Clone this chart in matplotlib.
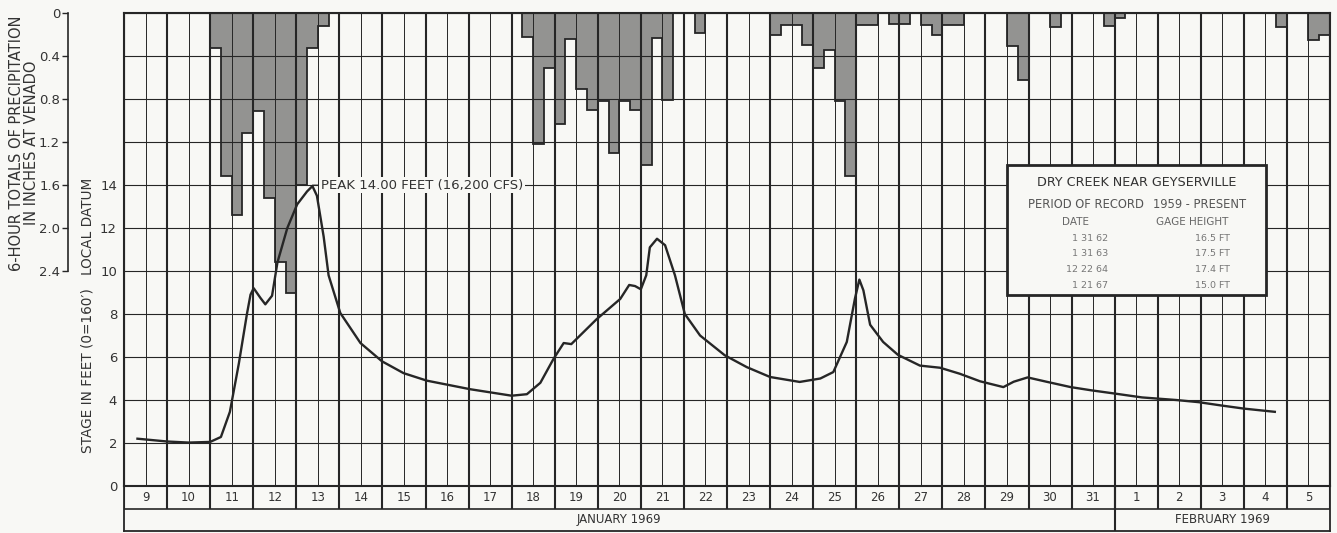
import matplotlib
matplotlib.use("Agg")
import matplotlib.pyplot as plt
import matplotlib.dates as mdates
import pandas as pd
from matplotlib.patches import Rectangle

BG = "#f8f8f5"
INK = "#262626"
TXT = "#333333"
FILL = "#939391"

START = pd.Timestamp("1969-01-09")
END = pd.Timestamp("1969-02-06")
FEB1 = pd.Timestamp("1969-02-01")

# 6-hour precipitation totals at Venado (inches), from Jan 11 00h, four per day
precip_start = pd.Timestamp("1969-01-11")
precip_in = [
    0.33, 1.52, 1.88, 1.12,   # Jan 11
    0.91, 1.72, 2.32, 2.60,   # Jan 12
    1.60, 0.33, 0.12, 0.00,   # Jan 13
    0.00, 0.00, 0.00, 0.00,   # Jan 14
    0.00, 0.00, 0.00, 0.00,   # Jan 15
    0.00, 0.00, 0.00, 0.00,   # Jan 16
    0.00, 0.00, 0.00, 0.00,   # Jan 17
    0.00, 0.22, 1.22, 0.51,   # Jan 18
    1.03, 0.24, 0.71, 0.90,   # Jan 19
    0.82, 1.30, 0.82, 0.90,   # Jan 20
    1.41, 0.23, 0.81, 0.00,   # Jan 21
    0.00, 0.19, 0.00, 0.00,   # Jan 22
    0.00, 0.00, 0.00, 0.00,   # Jan 23
    0.20, 0.11, 0.11, 0.30,   # Jan 24
    0.51, 0.34, 0.82, 1.52,   # Jan 25
    0.11, 0.11, 0.00, 0.10,   # Jan 26
    0.10, 0.00, 0.11, 0.20,   # Jan 27
    0.11, 0.11, 0.00, 0.00,   # Jan 28
    0.00, 0.00, 0.31, 0.62,   # Jan 29
    0.00, 0.00, 0.13, 0.00,   # Jan 30
    0.00, 0.00, 0.00, 0.12,   # Jan 31
    0.05, 0.00, 0.00, 0.00,   # Feb 1
    0.00, 0.00, 0.00, 0.00,   # Feb 2
    0.00, 0.00, 0.00, 0.00,   # Feb 3
    0.00, 0.00, 0.00, 0.13,   # Feb 4
    0.00, 0.00, 0.25, 0.20,   # Feb 5
]

# stage hydrograph, Dry Creek near Geyserville (feet)
stage_time = [
    "01-09 07:30", "01-10 00:00", "01-10 12:00", "01-11 00:00", "01-11 06:00",
    "01-11 11:00", "01-11 16:00", "01-11 20:30", "01-11 22:30", "01-12 00:15",
    "01-12 04:00", "01-12 06:45", "01-12 10:30", "01-12 13:30", "01-12 19:00",
    "01-13 00:30", "01-13 06:00", "01-13 09:00", "01-13 11:30", "01-13 15:15",
    "01-13 18:00", "01-14 00:30", "01-14 11:45", "01-14 23:45", "01-15 11:45",
    "01-16 00:45", "01-17 01:00", "01-18 00:00", "01-18 08:30", "01-18 16:00",
    "01-18 23:15", "01-19 05:00", "01-19 09:15", "01-19 23:15", "01-20 12:30",
    "01-20 17:30", "01-20 20:45", "01-21 00:00", "01-21 03:00", "01-21 05:00",
    "01-21 09:00", "01-21 13:30", "01-21 19:00", "01-22 00:30", "01-22 09:00",
    "01-22 22:45", "01-23 11:00", "01-24 00:00", "01-24 16:30", "01-25 04:00",
    "01-25 11:15", "01-25 18:45", "01-25 23:15", "01-26 01:45", "01-26 04:00",
    "01-26 07:45", "01-26 15:00", "01-26 23:15", "01-27 11:30", "01-27 22:45",
    "01-28 09:45", "01-28 21:00", "01-29 10:00", "01-29 15:45", "01-29 23:30",
    "01-30 10:00", "01-30 23:30", "01-31 11:00", "02-01 00:00", "02-01 15:15",
    "02-02 10:15", "02-02 22:45", "02-03 11:00", "02-04 00:00", "02-04 17:15",
]
stage_ft = [
    2.20, 2.07, 2.02, 2.05, 2.28,
    3.45, 5.70, 8.00, 8.90, 9.20,
    8.75, 8.45, 8.85, 10.4, 12.0,
    13.1, 13.7, 13.95, 13.5, 11.6,
    9.80, 8.05, 6.65, 5.80, 5.25,
    4.90, 4.50, 4.20, 4.27, 4.80,
    5.90, 6.65, 6.60, 7.75, 8.70,
    9.35, 9.30, 9.15, 9.80, 11.1,
    11.5, 11.2, 9.80, 8.00, 7.00,
    6.08, 5.53, 5.07, 4.84, 5.00,
    5.30, 6.70, 8.70, 9.60, 9.10,
    7.50, 6.70, 6.10, 5.60, 5.50,
    5.22, 4.87, 4.60, 4.85, 5.05,
    4.85, 4.60, 4.45, 4.30, 4.12,
    4.00, 3.90, 3.75, 3.60, 3.45,
]

peak_time = pd.Timestamp("1969-01-13 09:00")
peak_ft = 14.0
peak_label = "PEAK 14.00 FEET (16,200 CFS)"

stage_ticks = [0, 2, 4, 6, 8, 10, 12, 14]
precip_ticks = [0, 0.4, 0.8, 1.2, 1.6, 2.0, 2.4]

record_dates = ["1 31 62", "1 31 63", "12 22 64", "1 21 67"]
record_heights = ["16.5 FT", "17.5 FT", "17.4 FT", "15.0 FT"]

plt.rcParams["font.family"] = ["DejaVu Sans"]

fig = plt.figure(figsize=(13.37, 5.33), dpi=100, facecolor=BG)
pos = [124 / 1337, 47 / 533, 1206 / 1337, 473 / 533]

# precipitation axes (inverted, hanging from the top), drawn beneath the grid
axp = fig.add_axes(pos, facecolor=BG, zorder=1)
edges = mdates.date2num(pd.date_range(precip_start, periods=len(precip_in) + 1, freq="6h"))
axp.stairs(precip_in, edges, baseline=0, fill=True, color=FILL, lw=0)
axp.stairs(precip_in, edges, baseline=0, fill=False, color=INK, lw=1.3)
axp.set_ylim(4.4, 0)
axp.set_xlim(START, END)
for s in ["top", "right", "bottom"]:
    axp.spines[s].set_visible(False)
axp.spines["left"].set_position(("outward", 40))
axp.spines["left"].set_bounds(0, 2.4)
axp.spines["left"].set_color(INK)
axp.spines["left"].set_linewidth(1.2)
axp.set_yticks(precip_ticks)
axp.set_yticklabels(["0", "0.4", "0.8", "1.2", "1.6", "2.0", "2.4"])
axp.set_yticks([0, 2.4], minor=True)
axp.tick_params(axis="y", which="major", direction="out", length=4, width=1.0,
                colors=INK, labelcolor=TXT, labelsize=9.5, pad=2)
axp.tick_params(axis="y", which="minor", direction="in", length=7, width=1.2, colors=INK)
axp.tick_params(axis="x", which="both", length=0, labelbottom=False)

# stage axes on top with grid
ax = fig.add_axes(pos, sharex=axp, zorder=2)
ax.patch.set_visible(False)
ax.plot(pd.to_datetime(["1969-" + t for t in stage_time]), stage_ft,
        color=INK, lw=1.7, solid_joinstyle="round", zorder=3)
ax.set_ylim(0, 22)
ax.set_xlim(START, END)
ax.set_yticks(range(0, 23, 2))
ax.set_yticklabels([str(v) if v in stage_ticks else "" for v in range(0, 23, 2)])
ax.xaxis.set_major_locator(mdates.DayLocator())
ax.xaxis.set_minor_locator(mdates.HourLocator(byhour=12))
ax.tick_params(axis="x", which="both", length=0, labelbottom=False)
ax.tick_params(axis="y", length=0, labelsize=9.5, labelcolor=TXT, pad=5)
ax.set_axisbelow(True)
ax.grid(axis="x", which="major", color=INK, lw=1.5)
ax.grid(axis="x", which="minor", color=INK, lw=0.7)
ax.grid(axis="y", which="major", color=INK, lw=0.8)
for s in ax.spines.values():
    s.set_color(INK)
    s.set_linewidth(1.5)

ax.annotate(peak_label, xy=(peak_time, peak_ft), xytext=(6, 0), textcoords="offset points",
            ha="left", va="center", fontsize=9.5, color=TXT, zorder=4,
            bbox=dict(boxstyle="square,pad=0.15", fc=BG, ec="none"),
            arrowprops=dict(arrowstyle="-", color=INK, lw=0.6, shrinkA=0, shrinkB=0))

# station info box
ax.add_patch(Rectangle((0.732, 0.404), 0.215, 0.275, transform=ax.transAxes,
                       fc=BG, ec=INK, lw=2, zorder=5))
ax.text(0.840, 0.641, "DRY CREEK NEAR GEYSERVILLE", transform=ax.transAxes,
        ha="center", va="center", fontsize=9.2, color=TXT, zorder=6)
ax.text(0.750, 0.596, "PERIOD OF RECORD", transform=ax.transAxes,
        ha="left", va="center", fontsize=8.3, color="#555555", zorder=6)
ax.text(0.853, 0.596, "1959 - PRESENT", transform=ax.transAxes,
        ha="left", va="center", fontsize=8.3, color="#555555", zorder=6)
ax.text(0.778, 0.558, "DATE", transform=ax.transAxes,
        ha="left", va="center", fontsize=7.5, color="#666666", zorder=6)
ax.text(0.856, 0.558, "GAGE HEIGHT", transform=ax.transAxes,
        ha="left", va="center", fontsize=7.5, color="#666666", zorder=6)
for i, (d, h) in enumerate(zip(record_dates, record_heights)):
    yy = 0.524 - i * 0.0335
    ax.text(0.816, yy, d, transform=ax.transAxes, ha="right", va="center",
            fontsize=6.8, color="#777777", zorder=6)
    ax.text(0.917, yy, h, transform=ax.transAxes, ha="right", va="center",
            fontsize=6.8, color="#777777", zorder=6)

# date table under the plot
axd = fig.add_axes([124 / 1337, 2 / 533, 1206 / 1337, 45 / 533], sharex=ax, facecolor=BG)
axd.set_ylim(0, 2)
days = pd.date_range(START, END, freq="D")
axd.vlines(days, 1, 2, color=INK, lw=1.5)
axd.vlines([FEB1], 0, 2, color=INK, lw=1.5)
axd.axhline(1, color=INK, lw=1.2)
for d in days[:-1]:
    axd.text(d + pd.Timedelta(hours=12), 1.5, str(d.day), ha="center", va="center",
             fontsize=8.5, color=TXT)
axd.text(START + (FEB1 - START) / 2, 0.5, "JANUARY 1969", ha="center", va="center",
         fontsize=8.5, color=TXT)
axd.text(FEB1 + (END - FEB1) / 2, 0.5, "FEBRUARY 1969", ha="center", va="center",
         fontsize=8.5, color=TXT)
axd.tick_params(axis="both", which="both", length=0, labelbottom=False, labelleft=False)
for s in axd.spines.values():
    s.set_color(INK)
    s.set_linewidth(1.3)

# axis titles
fig.text(88 / 1337, 1 - 315 / 533, "STAGE IN FEET (0=160\u2032)   LOCAL DATUM", rotation=90,
         ha="center", va="center", fontsize=9.8, color=TXT)
fig.text(24 / 1337, 1 - 143 / 533, "6-HOUR TOTALS OF PRECIPITATION\nIN INCHES AT VENADO",
         rotation=90, ha="center", va="center", fontsize=10.5, color=TXT,
         multialignment="center", linespacing=1.05)

fig.savefig("out.png", dpi=100, facecolor=BG)
